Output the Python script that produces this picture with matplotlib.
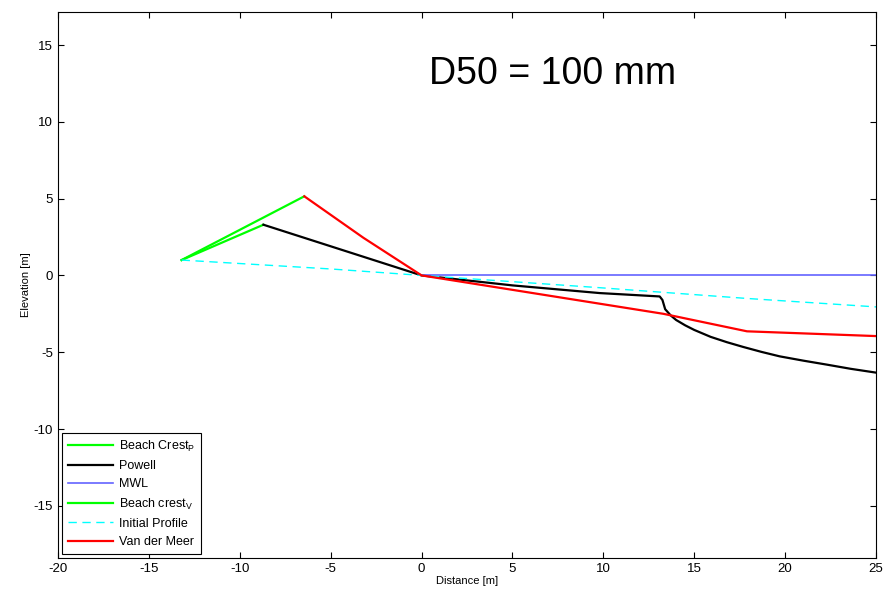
import matplotlib
matplotlib.use("Agg")
import matplotlib.pyplot as plt

plt.rcParams['font.family'] = ['Liberation Sans', 'DejaVu Sans']
plt.rcParams['axes.unicode_minus'] = False

# profiles
init_x = [-13.2, -5.0, 0.0, 9.8, 17.9, 25.0]
init_y = [1.0, 0.42, 0.0, -0.8, -1.5, -2.05]

mwl_x = [0.0, 25.0]
mwl_y = [0.0, 0.0]

crest_p_x = [-13.2, -8.7]
crest_p_y = [1.0, 3.3]

crest_v_x = [-13.2, -6.45]
crest_v_y = [1.0, 5.15]

powell_x = [-8.7, 0.0, 5.0, 9.8, 13.1, 13.25, 13.4, 13.7, 14.0, 14.5, 15.0, 15.9,
            16.8, 17.7, 18.7, 19.7, 21.0, 22.3, 23.6, 25.0]
powell_y = [3.3, 0.0, -0.65, -1.15, -1.37, -1.6, -2.2, -2.6, -2.9, -3.25, -3.55, -4.0,
            -4.35, -4.66, -4.98, -5.27, -5.55, -5.81, -6.08, -6.33]

vdm_x = [-6.45, -3.2, 0.0, 13.3, 17.9, 25.0]
vdm_y = [5.15, 2.45, 0.0, -2.5, -3.64, -3.95]

fig = plt.figure(figsize=(8.84, 5.91), dpi=100)
ax = fig.add_axes([0.0656, 0.0558, 0.9254, 0.9239])

ax.plot(crest_p_x, crest_p_y, color='#00ff00', lw=1.6, label=r'Beach Crest$\mathregular{_P}$')
ax.plot(powell_x, powell_y, color='k', lw=1.6, label='Powell')
ax.plot(mwl_x, mwl_y, color='#6464ff', lw=1.2, label='MWL')
ax.plot(crest_v_x, crest_v_y, color='#00ff00', lw=1.6, label=r'Beach crest$\mathregular{_V}$')
ax.plot(init_x, init_y, color='#00ffff', lw=1.0, ls=(0, (6, 4)), label='Initial Profile')
ax.plot(vdm_x, vdm_y, color='#ff0000', lw=1.6, label='Van der Meer')

ax.set_xlim(-20, 25)
ax.set_ylim(-18.4, 17.15)
ax.set_xticks(range(-20, 26, 5))
ax.set_yticks(range(-15, 16, 5))
ax.tick_params(direction='in', top=True, right=True, labelsize=9.5, length=4)
ax.set_xlabel('Distance [m]', fontsize=8, labelpad=1)
ax.set_ylabel('Elevation [m]', fontsize=8, labelpad=2)

ax.text(7.2, 13.1, 'D50 = 100 mm', fontsize=27, ha='center', va='center')

leg = ax.legend(loc='lower left', fontsize=9, fancybox=False, framealpha=1,
                edgecolor='k', borderaxespad=0.35, handlelength=3.6,
                labelspacing=0.5, handletextpad=0.5, borderpad=0.45)
leg.get_frame().set_linewidth(0.8)

fig.savefig('out.png', dpi=100)
